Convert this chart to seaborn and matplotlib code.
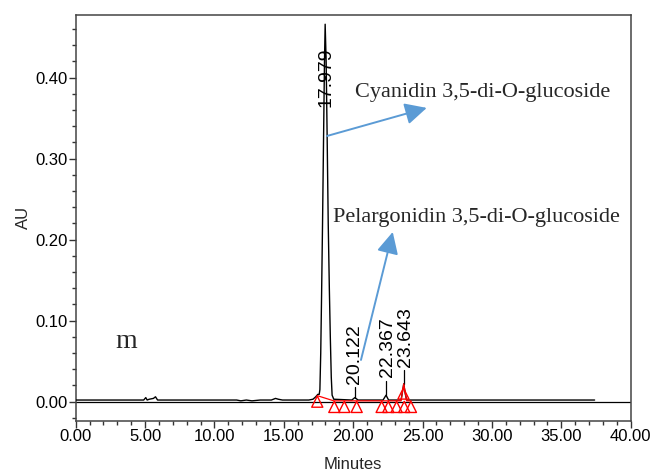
import matplotlib
matplotlib.use("Agg")
import matplotlib.pyplot as plt
import seaborn as sns
import pandas as pd
from matplotlib.ticker import MultipleLocator, FormatStrFormatter

# Chromatogram trace (retention time in minutes, absorbance in AU)
trace_time = [0.00, 4.90, 5.05, 5.15, 5.30, 5.60, 5.75, 5.90, 6.20, 11.60, 11.90,
              12.30, 12.70, 13.30, 14.10, 14.40, 14.60, 14.90, 16.80, 17.10, 17.30,
              17.45, 17.55, 17.60, 17.66, 17.72, 17.79, 17.86, 17.93, 17.979, 18.05,
              18.12, 18.20, 18.28, 18.35, 18.42, 18.48, 18.60, 19.90, 20.122, 20.35,
              22.15, 22.367, 22.55, 23.45, 23.55, 23.643, 23.75, 23.85, 25.00, 30.00,
              37.40]
trace_au = [0.002, 0.002, 0.005, 0.002, 0.003, 0.004, 0.006, 0.002, 0.002, 0.002, 0.001,
            0.002, 0.001, 0.002, 0.002, 0.004, 0.003, 0.002, 0.002, 0.003, 0.006,
            0.009, 0.009, 0.015, 0.060, 0.130, 0.220, 0.320, 0.420, 0.466, 0.420,
            0.330, 0.220, 0.140, 0.080, 0.030, 0.008, 0.003, 0.002, 0.005, 0.002,
            0.002, 0.008, 0.002, 0.002, 0.012, 0.022, 0.010, 0.002, 0.002, 0.002,
            0.002]

# Labelled peaks
peak_rt = [17.979, 20.122, 22.367, 23.643]
peak_top = [0.466, 0.005, 0.008, 0.022]
peak_label_y = [0.364, 0.022, 0.030, 0.043]
peak_label_dx = [0.06, 0.0, 0.13, 0.13]

# Integration markers
mark_time = [17.41, 18.64, 19.36, 20.25, 22.05, 22.53, 23.13, 23.68, 24.16, 23.62]
mark_au = [0.000, -0.0065, -0.0065, -0.0065, -0.0065, -0.0065, -0.0065, -0.0065, -0.0065, 0.010]

# Integration baseline / peak outline
base_time = [17.41, 18.60, 23.45, 23.643, 23.85, 24.16]
base_au = [0.0074, 0.001, 0.001, 0.022, 0.001, 0.001]

compounds = ["Cyanidin 3,5-di-O-glucoside", "Pelargonidin 3,5-di-O-glucoside"]

sns.set_theme(style="ticks")
plt.rcParams["font.family"] = ["Liberation Sans", "DejaVu Sans"]

fig = plt.figure(figsize=(6.51, 4.73), dpi=100)
ax = fig.add_axes([0.1163, 0.1106, 0.8525, 0.8577])

trace = pd.DataFrame({"Minutes": trace_time, "AU": trace_au})
marks = pd.DataFrame({"t": mark_time, "au": mark_au})
base = pd.DataFrame({"t": base_time, "au": base_au})

ax.axhline(0, color="black", lw=0.9, zorder=1)
sns.lineplot(data=trace, x="Minutes", y="AU", sort=False, estimator=None,
             color="black", lw=1.0, ax=ax, zorder=3)
sns.lineplot(data=base, x="t", y="au", sort=False, estimator=None,
             color="red", lw=0.9, ax=ax, zorder=4)
sns.scatterplot(data=marks, x="t", y="au", marker="^", s=64, facecolors="none",
                edgecolor="red", linewidth=1.0, ax=ax, zorder=5)

# Retention time labels with leader lines
for rt, top, ly, dx in zip(peak_rt, peak_top, peak_label_y, peak_label_dx):
    if ly > top:
        ax.plot([rt, rt], [top, ly - 0.004], color="black", lw=0.9, zorder=3)
    ax.text(rt + dx, ly, f"{rt:.3f}", rotation=90, ha="center", va="bottom",
            fontsize=14, color="black", zorder=6)

arrow_style = dict(arrowstyle="-|>,head_length=1.1,head_width=0.55",
                   color="#5b9bd5", lw=1.4, shrinkA=0, shrinkB=0)
ax.annotate("", xy=(25.30, 0.3627), xytext=(18.11, 0.328), arrowprops=arrow_style, zorder=7)
ax.annotate("", xy=(22.85, 0.2095), xytext=(20.56, 0.0515), arrowprops=arrow_style, zorder=7)

serif = ["Liberation Serif", "DejaVu Serif"]
ax.text(20.13, 0.376, compounds[0], family=serif, fontsize=16, va="baseline", ha="left")
ax.text(18.57, 0.222, compounds[1], family=serif, fontsize=16, va="baseline", ha="left")
ax.text(2.83, 0.066, "m", family=serif, fontsize=20, va="baseline", ha="left")

ax.set_xlim(0, 40)
ax.set_ylim(-0.0235, 0.4774)
ax.xaxis.set_major_locator(MultipleLocator(5))
ax.xaxis.set_minor_locator(MultipleLocator(1))
ax.yaxis.set_major_locator(MultipleLocator(0.1))
ax.yaxis.set_minor_locator(MultipleLocator(0.02))
ax.xaxis.set_major_formatter(FormatStrFormatter("%.2f"))
ax.yaxis.set_major_formatter(FormatStrFormatter("%.2f"))
ax.tick_params(which="major", direction="out", length=5, width=1, labelsize=12,
               colors="#333333", labelcolor="black", pad=1)
ax.tick_params(which="minor", direction="out", length=3, width=1, colors="#333333")
for sp in ax.spines.values():
    sp.set_visible(True)
    sp.set_color("#444444")
    sp.set_linewidth(1.1)

ax.set_xlabel("Minutes", fontsize=12, labelpad=9)
ax.set_ylabel("AU", fontsize=12, labelpad=3)

fig.savefig("out.png", dpi=100)
